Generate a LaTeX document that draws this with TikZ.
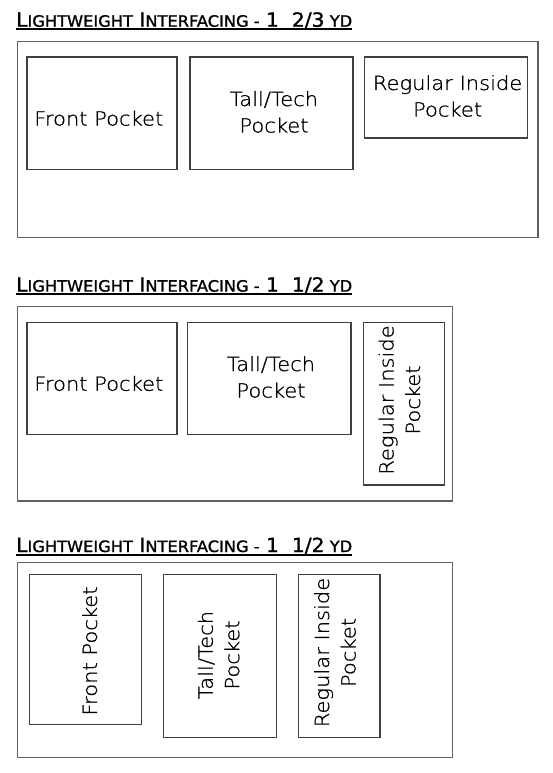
\documentclass[tikz,border=0pt]{standalone}
\usepackage{fontspec}
\usepackage{graphicx}
\IfFontExistsTF{DejaVu Sans ExtraLight}{\setmainfont{DejaVu Sans ExtraLight}[FakeStretch=1.08,FakeBold=0.9]}{\setmainfont{DejaVu Sans}}
\newfontfamily\hdfont{DejaVu Sans}[FakeBold=1.2]
\newcommand\hdbig[1]{{\fontsize{19.5}{21}\selectfont #1}}
\newcommand\hdsml[1]{{\fontsize{15.6}{17}\selectfont #1}}
\newcommand\hdline[1]{\resizebox{336pt}{\height}{\hdfont\hdbig{L}\hdsml{IGHTWEIGHT}\hdbig{\ I}\hdsml{NTERFACING\ -}\hdbig{\ 1\ \ #1}\hdsml{\ YD}}}
\tikzset{
  heading/.style={anchor=base west, inner sep=0pt, text=black},
  hdrule/.style={line width=2pt, black},
  outerbox/.style={draw=black!62, line width=1.5pt},
  pocketbox/.style={draw=black!75, line width=1.3pt},
  ptext/.style={inner sep=0pt, align=center, text=black, font=\fontsize{19.5}{26.5}\selectfont},
  vtext/.style={ptext, rotate=90}
}
\begin{document}
\begin{tikzpicture}[x=1pt, y=-1pt]
\useasboundingbox (0,0) rectangle (553,773);
\fill[white] (0,0) rectangle (553,773);

% ---------- Panel 1 ----------
\node[heading] (h1) at (16,26.7) {\hdline{2/3}};
\draw[hdrule] ([yshift=-2.6pt]h1.base west) -- ([yshift=-2.6pt]h1.base east);
\draw[outerbox] (17.5,41.5) rectangle (538,237.3);
\draw[pocketbox] (27,57) rectangle (177,169.3);
\draw[pocketbox] (190,57) rectangle (353,169.3);
\draw[pocketbox] (364.4,57) rectangle (527.7,138);
\node[ptext] (f1) at (98.8,118.3) {Front Pocket};
\node[ptext] (t1) at (274,112) {Tall/Tech\\Pocket};
\node[ptext] (r1) at (447.6,96) {Regular Inside\\Pocket};

% ---------- Panel 2 ----------
\node[heading] (h2) at (16,291.6) {\hdline{1/2}};
\draw[hdrule] ([yshift=-2.6pt]h2.base west) -- ([yshift=-2.6pt]h2.base east);
\draw[outerbox] (17.5,306.7) rectangle (452.3,501);
\draw[pocketbox] (27,322.3) rectangle (177,434.3);
\draw[pocketbox] (187.7,322.3) rectangle (351,434.3);
\draw[pocketbox] (363.5,322.3) rectangle (444.3,485);
\node[ptext] (f2) at (98.8,383.5) {Front Pocket};
\node[ptext] (t2) at (271,377) {Tall/Tech\\Pocket};
\node[vtext] (r2) at (399.5,400) {Regular Inside\\Pocket};

% ---------- Panel 3 ----------
\node[heading] (h3) at (16,552) {\hdline{1/2}};
\draw[hdrule] ([yshift=-2.6pt]h3.base west) -- ([yshift=-2.6pt]h3.base east);
\draw[outerbox] (17.5,562.3) rectangle (452.3,757.3);
\draw[pocketbox] (29.3,574.7) rectangle (141.7,724.3);
\draw[pocketbox] (163.5,574.7) rectangle (276.2,737.7);
\draw[pocketbox] (298.8,574.7) rectangle (380,737.7);
\node[vtext] (f3) at (89.7,651) {Front Pocket};
\node[vtext] (t3) at (218.7,655) {Tall/Tech\\Pocket};
\node[vtext] (r3) at (335,652.5) {Regular Inside\\Pocket};
\end{tikzpicture}
\end{document}
